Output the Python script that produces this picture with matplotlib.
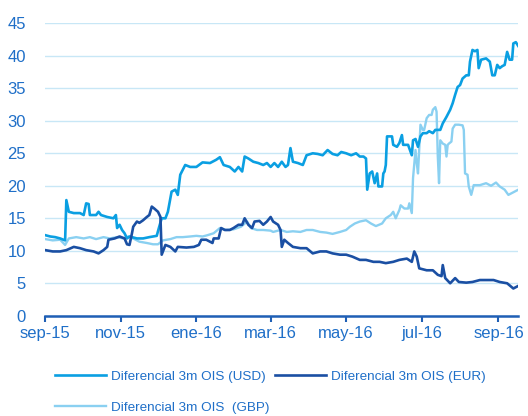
import matplotlib
matplotlib.use("Agg")
import matplotlib.pyplot as plt
import matplotlib.dates as mdates
import pandas as pd

plt.rcParams.update({"font.family": ["Liberation Sans", "DejaVu Sans"]})

# --- data (bp) ---
usd_dates = ["2015-09-01", "2015-09-05", "2015-09-09", "2015-09-13", "2015-09-17", "2015-09-18",
             "2015-09-20", "2015-09-24", "2015-09-29", "2015-10-02", "2015-10-04", "2015-10-06",
             "2015-10-07", "2015-10-12", "2015-10-14", "2015-10-16", "2015-10-21", "2015-10-26",
             "2015-10-28", "2015-10-29", "2015-10-31", "2015-11-02", "2015-11-04", "2015-11-06",
             "2015-11-08", "2015-11-14", "2015-11-19", "2015-11-24", "2015-11-30", "2015-12-02",
             "2015-12-04", "2015-12-07", "2015-12-09", "2015-12-12", "2015-12-15", "2015-12-17",
             "2015-12-19", "2015-12-23", "2015-12-27", "2016-01-01", "2016-01-06", "2016-01-12",
             "2016-01-17", "2016-01-20", "2016-01-23", "2016-01-28", "2016-02-01", "2016-02-04",
             "2016-02-07", "2016-02-09", "2016-02-12", "2016-02-16", "2016-02-20", "2016-02-24",
             "2016-02-27", "2016-03-01", "2016-03-04", "2016-03-07", "2016-03-10", "2016-03-13",
             "2016-03-15", "2016-03-17", "2016-03-19", "2016-03-23", "2016-03-27", "2016-03-30",
             "2016-04-04", "2016-04-08", "2016-04-12", "2016-04-16", "2016-04-20", "2016-04-24",
             "2016-04-27", "2016-05-01", "2016-05-05", "2016-05-09", "2016-05-12", "2016-05-15",
             "2016-05-17", "2016-05-18", "2016-05-20", "2016-05-22", "2016-05-24", "2016-05-26",
             "2016-05-27", "2016-05-30", "2016-05-31", "2016-06-01", "2016-06-02", "2016-06-03",
             "2016-06-07", "2016-06-08", "2016-06-11", "2016-06-13", "2016-06-15", "2016-06-16",
             "2016-06-20", "2016-06-23", "2016-06-24", "2016-06-26", "2016-06-28", "2016-06-30",
             "2016-07-02", "2016-07-05", "2016-07-07", "2016-07-10", "2016-07-12", "2016-07-16",
             "2016-07-18", "2016-07-21", "2016-07-24", "2016-07-26", "2016-07-28", "2016-07-30",
             "2016-08-01", "2016-08-03", "2016-08-06", "2016-08-08", "2016-08-09", "2016-08-11",
             "2016-08-13", "2016-08-15", "2016-08-16", "2016-08-18", "2016-08-22", "2016-08-25",
             "2016-08-27", "2016-08-29", "2016-08-31", "2016-09-02", "2016-09-04", "2016-09-06",
             "2016-09-08", "2016-09-10", "2016-09-12", "2016-09-13", "2016-09-15", "2016-09-17"]
usd = [12.4, 12.2, 12.1, 11.9, 11.6, 17.8, 16.0, 15.8, 15.8, 15.5, 17.3, 17.2,
       15.5, 15.5, 16.0, 15.5, 15.2, 15.0, 15.5, 13.5, 14.0, 13.2, 12.7, 11.9,
       12.2, 11.9, 11.9, 12.1, 12.3, 13.7, 15.0, 15.0, 16.0, 19.1, 19.4, 18.6,
       21.7, 23.2, 22.9, 22.9, 23.6, 23.5, 24.0, 24.4, 23.2, 22.9, 22.2, 22.9,
       22.2, 24.5, 24.2, 23.7, 23.5, 23.2, 23.5, 22.9, 23.5, 22.9, 23.7, 22.9,
       23.2, 25.8, 23.7, 23.5, 23.2, 24.7, 25.0, 24.9, 24.7, 25.5, 24.9, 24.7,
       25.2, 25.0, 24.7, 25.0, 24.5, 24.5, 24.2, 19.4, 21.9, 22.2, 20.4, 21.9,
       19.9, 19.9, 21.9, 22.2, 23.2, 27.6, 27.6, 26.3, 26.0, 26.6, 27.8, 26.3,
       26.3, 24.7, 27.0, 27.2, 26.0, 27.6, 28.1, 28.1, 28.4, 28.1, 28.6, 28.6,
       29.6, 30.6, 31.7, 32.7, 34.0, 35.2, 35.5, 36.5, 37.0, 37.0, 39.1, 40.9,
       40.7, 40.9, 38.1, 39.4, 39.6, 39.1, 37.0, 37.0, 38.6, 38.1, 38.4, 38.6,
       40.6, 39.4, 39.4, 41.9, 42.1, 41.5]

eur_dates = ["2015-09-01", "2015-09-07", "2015-09-13", "2015-09-18", "2015-09-24", "2015-09-29",
             "2015-10-04", "2015-10-10", "2015-10-14", "2015-10-18", "2015-10-21", "2015-10-22",
             "2015-10-27", "2015-10-31", "2015-11-04", "2015-11-06", "2015-11-08", "2015-11-10",
             "2015-11-11", "2015-11-14", "2015-11-16", "2015-11-19", "2015-11-22", "2015-11-24",
             "2015-11-26", "2015-11-28", "2015-12-01", "2015-12-03", "2015-12-04", "2015-12-07",
             "2015-12-11", "2015-12-15", "2015-12-17", "2015-12-24", "2015-12-30", "2016-01-03",
             "2016-01-05", "2016-01-09", "2016-01-14", "2016-01-15", "2016-01-19", "2016-01-21",
             "2016-01-24", "2016-01-28", "2016-01-31", "2016-02-04", "2016-02-07", "2016-02-09",
             "2016-02-12", "2016-02-15", "2016-02-17", "2016-02-21", "2016-02-24", "2016-02-27",
             "2016-03-01", "2016-03-03", "2016-03-07", "2016-03-09", "2016-03-10", "2016-03-12",
             "2016-03-15", "2016-03-19", "2016-03-25", "2016-03-30", "2016-04-04", "2016-04-10",
             "2016-04-15", "2016-04-20", "2016-04-26", "2016-05-01", "2016-05-06", "2016-05-12",
             "2016-05-17", "2016-05-23", "2016-05-28", "2016-06-02", "2016-06-08", "2016-06-13",
             "2016-06-19", "2016-06-23", "2016-06-25", "2016-06-27", "2016-06-29", "2016-07-05",
             "2016-07-10", "2016-07-14", "2016-07-17", "2016-07-18", "2016-07-20", "2016-07-24",
             "2016-07-28", "2016-07-31", "2016-08-06", "2016-08-11", "2016-08-17", "2016-08-22",
             "2016-08-28", "2016-09-02", "2016-09-08", "2016-09-13", "2016-09-17"]
eur = [10.1, 9.9, 9.9, 10.1, 10.6, 10.4, 10.1, 9.9, 9.6, 10.1, 10.6, 11.7,
       11.9, 12.2, 11.9, 11.0, 10.9, 12.7, 13.7, 14.5, 14.3, 14.7, 15.2, 15.5,
       16.8, 16.5, 16.0, 15.2, 9.4, 10.9, 10.6, 9.9, 10.6, 10.5, 10.6, 10.9,
       11.7, 11.7, 11.2, 11.9, 11.9, 13.5, 13.2, 13.2, 13.5, 14.0, 14.0, 15.0,
       14.0, 13.5, 14.5, 14.6, 14.0, 14.5, 15.2, 14.5, 14.0, 13.2, 10.6, 11.7,
       11.2, 10.6, 10.4, 10.4, 9.6, 9.9, 9.9, 9.6, 9.4, 9.4, 9.1, 8.6,
       8.6, 8.3, 8.3, 8.1, 8.3, 8.6, 8.8, 8.3, 9.9, 9.1, 7.3, 7.0,
       7.0, 6.3, 6.1, 7.8, 5.8, 5.0, 5.8, 5.2, 5.1, 5.2, 5.5, 5.5,
       5.5, 5.2, 5.0, 4.2, 4.6]

gbp_dates = ["2015-09-01", "2015-09-07", "2015-09-13", "2015-09-17", "2015-09-20", "2015-09-26",
             "2015-10-02", "2015-10-07", "2015-10-12", "2015-10-18", "2015-10-23", "2015-10-29",
             "2015-11-03", "2015-11-07", "2015-11-11", "2015-11-16", "2015-11-22", "2015-11-27",
             "2015-12-01", "2015-12-05", "2015-12-11", "2015-12-16", "2015-12-21", "2015-12-27",
             "2016-01-01", "2016-01-06", "2016-01-10", "2016-01-15", "2016-01-20", "2016-01-25",
             "2016-01-31", "2016-02-06", "2016-02-11", "2016-02-14", "2016-02-19", "2016-02-24",
             "2016-03-01", "2016-03-03", "2016-03-09", "2016-03-14", "2016-03-19", "2016-03-25",
             "2016-03-30", "2016-04-04", "2016-04-10", "2016-04-15", "2016-04-20", "2016-04-26",
             "2016-05-01", "2016-05-04", "2016-05-08", "2016-05-12", "2016-05-17", "2016-05-21",
             "2016-05-25", "2016-05-30", "2016-06-02", "2016-06-06", "2016-06-08", "2016-06-10",
             "2016-06-13", "2016-06-14", "2016-06-17", "2016-06-20", "2016-06-21", "2016-06-23",
             "2016-06-24", "2016-06-26", "2016-06-27", "2016-06-28", "2016-06-30", "2016-07-02",
             "2016-07-03", "2016-07-05", "2016-07-07", "2016-07-09", "2016-07-10", "2016-07-12",
             "2016-07-13", "2016-07-14", "2016-07-15", "2016-07-16", "2016-07-18", "2016-07-20",
             "2016-07-21", "2016-07-22", "2016-07-23", "2016-07-25", "2016-07-26", "2016-07-28",
             "2016-07-31", "2016-08-03", "2016-08-04", "2016-08-05", "2016-08-07", "2016-08-08",
             "2016-08-10", "2016-08-12", "2016-08-17", "2016-08-22", "2016-08-26", "2016-08-30",
             "2016-09-02", "2016-09-06", "2016-09-09", "2016-09-12", "2016-09-14", "2016-09-17"]
gbp = [11.8, 11.6, 11.7, 10.9, 11.9, 12.1, 11.9, 12.1, 11.8, 12.1, 11.9, 12.1,
       11.9, 12.2, 11.9, 11.4, 11.2, 11.0, 11.0, 11.6, 11.8, 12.1, 12.1, 12.2,
       12.3, 12.2, 12.4, 12.7, 13.5, 13.2, 13.3, 13.7, 14.5, 13.5, 13.2, 13.2,
       13.1, 12.9, 13.2, 12.9, 13.0, 12.9, 13.2, 13.2, 12.9, 12.8, 12.6, 12.9,
       13.2, 13.7, 14.2, 14.5, 14.7, 14.2, 13.8, 14.2, 15.0, 15.5, 16.0, 15.0,
       16.3, 17.0, 16.5, 16.5, 17.3, 15.8, 21.2, 25.5, 23.5, 21.9, 29.4, 28.6,
       28.6, 30.4, 30.9, 30.9, 31.7, 32.1, 31.4, 24.5, 20.4, 27.0, 26.5, 26.3,
       24.5, 26.3, 26.5, 26.8, 28.8, 29.4, 29.4, 29.3, 28.6, 21.9, 21.7, 19.9,
       18.6, 20.1, 20.1, 20.4, 20.0, 20.5, 19.9, 19.4, 18.6, 18.9, 19.1, 19.4]

labels = ["Diferencial 3m OIS (USD)", "Diferencial 3m OIS (EUR)", "Diferencial 3m OIS  (GBP)"]
yticks = [0, 5, 10, 15, 20, 25, 30, 35, 40, 45]
month_es = {1: "ene", 3: "mar", 5: "may", 7: "jul", 9: "sep", 11: "nov"}

C_USD, C_EUR, C_GBP = "#0a9fe2", "#1a4fa3", "#8ad0f1"
TXT = "#1f6fc8"

fig = plt.figure(figsize=(5.28, 4.16), dpi=100)
ax = fig.add_axes([0.0858, 0.2409, 0.8958, 0.7031])

l_usd, = ax.plot(pd.to_datetime(usd_dates), usd, color=C_USD, lw=1.9, zorder=3)
l_eur, = ax.plot(pd.to_datetime(eur_dates), eur, color=C_EUR, lw=1.9, zorder=4)
l_gbp, = ax.plot(pd.to_datetime(gbp_dates), gbp, color=C_GBP, lw=1.7, zorder=2)

ax.set_ylim(0, 45)
ax.set_yticks(yticks)
ax.set_xlim(pd.Timestamp("2015-09-01"), pd.Timestamp("2016-09-17"))
ax.xaxis.set_major_locator(mdates.MonthLocator(bymonth=[1, 3, 5, 7, 9, 11]))
ax.xaxis.set_major_formatter(plt.FuncFormatter(
    lambda v, _: f"{month_es[mdates.num2date(v).month]}-{mdates.num2date(v).year % 100:02d}"))

ax.grid(axis="y", color="#c8e7f6", lw=1.0, zorder=0)
ax.set_axisbelow(True)
for s in ("top", "right", "left"):
    ax.spines[s].set_visible(False)
ax.spines["bottom"].set_color("#1f5fb5")
ax.spines["bottom"].set_linewidth(1.8)
ax.tick_params(axis="y", length=0, pad=14, labelsize=12, labelcolor=TXT)
ax.tick_params(axis="x", length=4, width=1.5, color="#1f5fb5", pad=3, labelsize=12, labelcolor=TXT)

# legend fills column-wise: USD, GBP in the first column, EUR in the second
leg = fig.legend([l_usd, l_gbp, l_eur], [labels[0], labels[2], labels[1]],
                 loc="upper left", bbox_to_anchor=(0.104, 0.11), ncol=2,
                 frameon=False, fontsize=9.7, handlelength=3.8, handletextpad=0.4,
                 columnspacing=0.35, labelspacing=1.4, borderpad=0, borderaxespad=0)
for t in leg.get_texts():
    t.set_color(TXT)

fig.savefig("out.png", dpi=100)
